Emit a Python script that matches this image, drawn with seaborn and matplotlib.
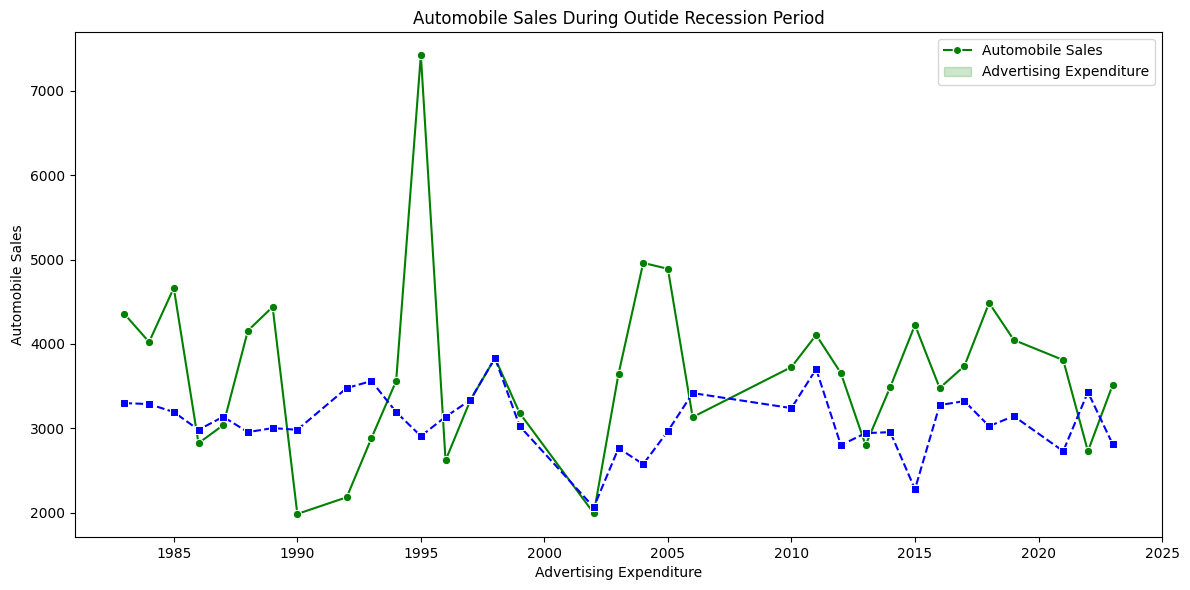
import pandas as pd
from matplotlib import pyplot as plt
from matplotlib.lines import Line2D
from matplotlib.patches import Patch
import seaborn as sns

years = [1983, 1984, 1985, 1986, 1987, 1988, 1989, 1990, 1992, 1993,
         1994, 1995, 1996, 1997, 1998, 1999, 2002, 2003, 2004, 2005,
         2006, 2010, 2011, 2012, 2013, 2014, 2015, 2016, 2017, 2018,
         2019, 2021, 2022, 2023]
auto_sales = [4355, 4023, 4664, 2823, 3037, 4158, 4439, 1984, 2182, 2883,
              3560, 7428, 2618, 3330, 3833, 3180, 1992, 3643, 4961, 4890,
              3132, 3726, 4106, 3655, 2800, 3489, 4225, 3477, 3738, 4486,
              4047, 3809, 2728, 3512]
ad_expenditure = [3298, 3287, 3192, 2982, 3136, 2954, 3002, 2982, 3477, 3560,
                  3192, 2907, 3136, 3334, 3833, 3025, 2063, 2764, 2574, 2966,
                  3417, 3239, 3702, 2800, 2942, 2954, 2277, 3275, 3322, 3025,
                  3144, 2728, 3429, 2812]

df = pd.DataFrame({'Year': years,
                   'Automobile_Sales': auto_sales,
                   'Advertising_Expenditure': ad_expenditure})

fig, ax = plt.subplots(figsize=(11.9, 5.9), dpi=100)
sns.lineplot(data=df, x='Year', y='Automobile_Sales', color='green',
             marker='o', ax=ax)
sns.lineplot(data=df, x='Year', y='Advertising_Expenditure', color='blue',
             marker='s', linestyle='--', ax=ax)

handles = [Line2D([], [], color='green', marker='o', markeredgecolor='white'),
           Patch(facecolor='green', edgecolor='green', alpha=0.2)]
ax.legend(handles, ['Automobile Sales', 'Advertising Expenditure'])
ax.set_xlabel('Advertising Expenditure')
ax.set_ylabel('Automobile Sales')
ax.set_title('Automobile Sales During Outide Recession Period')
fig.subplots_adjust(left=0.063, right=0.9765, top=0.946, bottom=0.09)
plt.savefig('out.png')
